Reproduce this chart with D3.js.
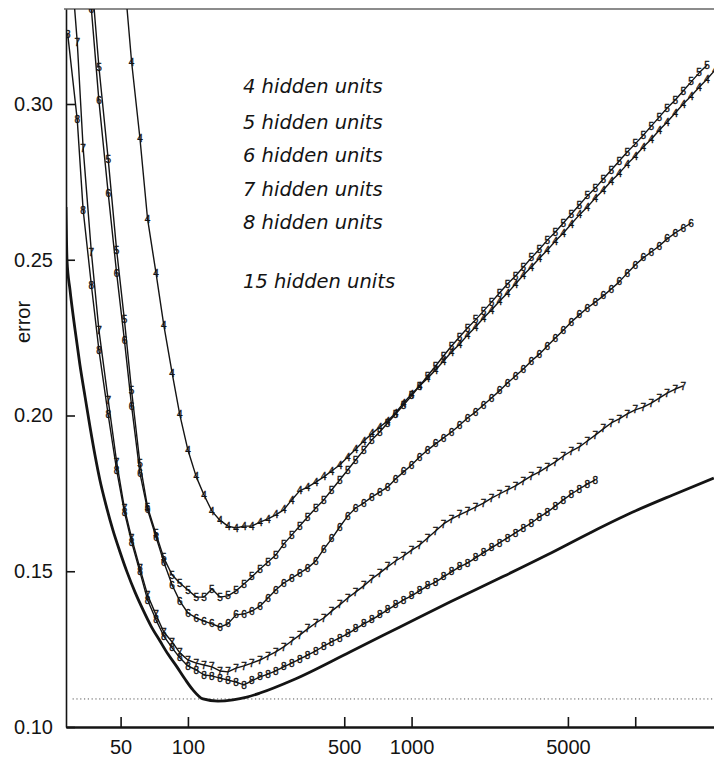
<!DOCTYPE html>
<html>
<head>
<meta charset="utf-8">
<script src="https://cdn.jsdelivr.net/npm/d3@7"></script>
<style>
  html, body { margin: 0; padding: 0; background: #fff; }
  svg { display: block; }
</style>
</head>
<body>
<svg id="chart" width="714" height="763"></svg>
<script>
// Training-set sizes at which the networks were evaluated (shared grid).
const sampleSizes = [29, 32, 34, 37, 40, 44, 48, 52, 56, 61, 66, 72, 78, 85, 92, 100,
  109, 118, 128, 139, 151, 164, 178, 193, 210, 228, 247, 268, 291, 316, 343, 373,
  405, 439, 477, 518, 562, 611, 663, 720, 781, 848, 921, 1000, 1086, 1179, 1280,
  1389, 1509, 1638, 1778, 1931, 2096, 2276, 2471, 2683, 2913, 3162, 3433, 3728,
  4047, 4394, 4771, 5179, 5623, 6105, 6628, 7197, 7813, 8483, 9210, 10000, 10860,
  11790, 12800, 13890, 15090, 16380, 17780, 19310, 20960, 22760];

const hiddenUnits = [4, 5, 6, 7, 8];
// Position in sampleSizes of each series' first value.
const firstIndex = [7, 3, 2, 0, 0];

const errors4 = [0.3404, 0.3135, 0.2891, 0.2631, 0.2457, 0.2290, 0.2136, 0.2002, 0.1889, 0.1803,
  0.1745, 0.1693, 0.1664, 0.1645, 0.1639, 0.1645, 0.1645, 0.1658, 0.1668, 0.1681,
  0.1697, 0.1729, 0.1758, 0.1770, 0.1786, 0.1803, 0.1822, 0.1841, 0.1867, 0.1892,
  0.1918, 0.1941, 0.1963, 0.1982, 0.2008, 0.2040, 0.2069, 0.2095, 0.2120, 0.2146,
  0.2175, 0.2204, 0.2229, 0.2258, 0.2284, 0.2313, 0.2339, 0.2367, 0.2393, 0.2422,
  0.2451, 0.2477, 0.2505, 0.2531, 0.2560, 0.2586, 0.2615, 0.2644, 0.2669, 0.2698,
  0.2724, 0.2753, 0.2778, 0.2807, 0.2833, 0.2862, 0.2887, 0.2916, 0.2942, 0.2971,
  0.3000, 0.3026, 0.3054, 0.3080, 0.3109];

const errors5 = [0.3414, 0.3119, 0.2823, 0.2531, 0.2307, 0.2079, 0.1847,
  0.1706, 0.1620, 0.1543, 0.1488, 0.1462, 0.1440, 0.1417, 0.1417, 0.1443, 0.1417,
  0.1421, 0.1437, 0.1459, 0.1482, 0.1507, 0.1530, 0.1552, 0.1587, 0.1616, 0.1645,
  0.1674, 0.1703, 0.1729, 0.1761, 0.1793, 0.1825, 0.1857, 0.1889, 0.1921, 0.1947,
  0.1976, 0.2005, 0.2034, 0.2063, 0.2095, 0.2127, 0.2159, 0.2191, 0.2223, 0.2252,
  0.2281, 0.2307, 0.2335, 0.2364, 0.2393, 0.2422, 0.2448, 0.2477, 0.2506, 0.2534,
  0.2563, 0.2589, 0.2618, 0.2647, 0.2676, 0.2705, 0.2730, 0.2759, 0.2788, 0.2817,
  0.2846, 0.2872, 0.2900, 0.2929, 0.2958, 0.2987, 0.3013, 0.3042, 0.3071, 0.3100,
  0.3125];

const errors6 = [0.3600, 0.3305, 0.3010, 0.2714, 0.2457, 0.2242, 0.2030, 0.1815,
  0.1697, 0.1610, 0.1530, 0.1456, 0.1404, 0.1366, 0.1350, 0.1340, 0.1331, 0.1321,
  0.1331, 0.1360, 0.1363, 0.1372, 0.1388, 0.1414, 0.1440, 0.1462, 0.1478, 0.1494,
  0.1510, 0.1533, 0.1571, 0.1604, 0.1642, 0.1677, 0.1703, 0.1719, 0.1738, 0.1754,
  0.1770, 0.1796, 0.1819, 0.1841, 0.1867, 0.1889, 0.1909, 0.1928, 0.1947, 0.1969,
  0.1992, 0.2011, 0.2034, 0.2056, 0.2079, 0.2104, 0.2127, 0.2149, 0.2175, 0.2197,
  0.2223, 0.2249, 0.2274, 0.2300, 0.2323, 0.2345, 0.2364, 0.2384, 0.2406, 0.2429,
  0.2457, 0.2483, 0.2506, 0.2525, 0.2544, 0.2567, 0.2586, 0.2602, 0.2618];

const errors7 = [0.3591, 0.3199, 0.2859, 0.2525, 0.2274, 0.2050, 0.1851, 0.1703, 0.1607, 0.1510,
  0.1424, 0.1360, 0.1305, 0.1273, 0.1238, 0.1215, 0.1205, 0.1199, 0.1193, 0.1180,
  0.1177, 0.1189, 0.1196, 0.1205, 0.1215, 0.1228, 0.1241, 0.1257, 0.1276, 0.1295,
  0.1315, 0.1334, 0.1350, 0.1372, 0.1392, 0.1414, 0.1433, 0.1453, 0.1475, 0.1494,
  0.1514, 0.1533, 0.1549, 0.1568, 0.1584, 0.1607, 0.1629, 0.1652, 0.1668, 0.1681,
  0.1693, 0.1706, 0.1719, 0.1735, 0.1748, 0.1761, 0.1774, 0.1790, 0.1806, 0.1819,
  0.1835, 0.1851, 0.1870, 0.1886, 0.1899, 0.1918, 0.1937, 0.1957, 0.1976, 0.1989,
  0.2005, 0.2018, 0.2027, 0.2040, 0.2056, 0.2072, 0.2085, 0.2095];

const errors8 = [0.3225, 0.2949, 0.2660, 0.2419, 0.2210, 0.2002, 0.1825, 0.1690, 0.1594, 0.1498,
  0.1408, 0.1344, 0.1292, 0.1254, 0.1222, 0.1196, 0.1183, 0.1167, 0.1164, 0.1157,
  0.1151, 0.1144, 0.1135, 0.1148, 0.1161, 0.1170, 0.1180, 0.1193, 0.1205, 0.1218,
  0.1231, 0.1244, 0.1260, 0.1273, 0.1286, 0.1299, 0.1315, 0.1331, 0.1344, 0.1360,
  0.1376, 0.1392, 0.1408, 0.1421, 0.1437, 0.1453, 0.1465, 0.1482, 0.1498, 0.1514,
  0.1526, 0.1543, 0.1559, 0.1575, 0.1591, 0.1607, 0.1623, 0.1639, 0.1655, 0.1674,
  0.1690, 0.1709, 0.1729, 0.1748, 0.1764, 0.1780, 0.1793];

// 15 hidden units: drawn as a heavy line without symbols.
const sizes15 = [28.5, 28.8, 29.7, 31.3, 32.9, 34.7, 36.5, 38.4, 40.4, 43.0, 46.2, 49.7,
  53.4, 58.0, 63.0, 68.4, 75.0, 81.4, 89.3, 97.0, 105.3, 116.8, 136.2, 159.0, 183.6,
  209.9, 294.8, 530.3, 887.0, 1484, 2483, 4027, 6269, 9759, 14730, 22460];
const errors15 = [0.2669, 0.2499, 0.2403, 0.2274, 0.2162, 0.2059, 0.1963, 0.1873, 0.1793,
  0.1713, 0.1632, 0.1562, 0.1498, 0.1433, 0.1376, 0.1324, 0.1276, 0.1234, 0.1193,
  0.1154, 0.1119, 0.1090, 0.1083, 0.1087, 0.1096, 0.1109, 0.1151, 0.1241, 0.1321,
  0.1401, 0.1478, 0.1552, 0.1623, 0.1690, 0.1745, 0.1799];

const referenceError = 0.109;

const yTicks = [0.10, 0.15, 0.20, 0.25, 0.30];
const xTicks = [50, 100, 500, 1000, 5000, 10000];
const xTickLabels = ["50", "100", "500", "1000", "5000", ""];
const legendLines = ["4 hidden units", "5 hidden units", "6 hidden units",
  "7 hidden units", "8 hidden units", "15 hidden units"];
const yLabel = "error";

// ---------------------------------------------------------------
const svg = d3.select("#chart");
const plot = { left: 66, right: 714, top: 9, bottom: 727 };

const x = d3.scaleLog().domain([28.5, 22500]).range([plot.left, plot.right]);
const y = d3.scaleLinear().domain([0.10, 0.3305]).range([plot.bottom, plot.top]);

svg.append("defs").append("clipPath").attr("id", "plot-clip")
  .append("rect")
  .attr("x", plot.left).attr("y", plot.top)
  .attr("width", plot.right - plot.left).attr("height", plot.bottom - plot.top);

const ink = "#141414";
const labelFont = "'Liberation Sans', Arial, Helvetica, sans-serif";

// Frame: grey top rule
svg.append("line")
  .attr("x1", plot.left - 2).attr("x2", plot.right)
  .attr("y1", plot.top).attr("y2", plot.top)
  .attr("stroke", "#8c8c8c").attr("stroke-width", 2);

// Dotted reference level
svg.append("line")
  .attr("x1", x(30.5)).attr("x2", plot.right)
  .attr("y1", y(referenceError)).attr("y2", y(referenceError))
  .attr("stroke", "#555").attr("stroke-width", 1)
  .attr("stroke-dasharray", "1.2,2.6");

// Axes
const yAxis = d3.axisLeft(y)
  .tickValues(yTicks)
  .tickSize(-9)
  .tickSizeOuter(0)
  .tickPadding(13)
  .tickFormat(d3.format(".2f"));

const yAxisG = svg.append("g")
  .attr("transform", `translate(${plot.left},0)`)
  .call(yAxis);
yAxisG.select(".domain").attr("stroke", ink).attr("stroke-width", 1.6);
yAxisG.selectAll(".tick line").attr("stroke", ink).attr("stroke-width", 1.6);
yAxisG.selectAll(".tick text")
  .attr("fill", ink)
  .style("font-family", labelFont)
  .style("font-size", "20px");

const xAxis = d3.axisBottom(x)
  .tickValues(xTicks)
  .tickSize(-10)
  .tickSizeOuter(0)
  .tickPadding(13)
  .tickFormat((d, i) => xTickLabels[i]);

const xAxisG = svg.append("g")
  .attr("transform", `translate(0,${plot.bottom})`)
  .call(xAxis);
xAxisG.select(".domain").attr("stroke", ink).attr("stroke-width", 2.4);
xAxisG.selectAll(".tick line").attr("stroke", ink).attr("stroke-width", 1.6);
xAxisG.selectAll(".tick text")
  .attr("fill", ink)
  .style("font-family", labelFont)
  .style("font-size", "20px");

// Y axis title
svg.append("text")
  .attr("transform", "translate(30,322) rotate(-90)")
  .attr("text-anchor", "middle")
  .attr("fill", ink)
  .style("font-family", labelFont)
  .style("font-size", "20px")
  .text(yLabel);

// Curves
const curvesG = svg.append("g").attr("clip-path", "url(#plot-clip)");

const line = d3.line()
  .x(d => x(d.n))
  .y(d => y(d.e));

const seriesErrors = [errors4, errors5, errors6, errors7, errors8];

seriesErrors.forEach((errs, s) => {
  const pts = errs.map((e, j) => ({ n: sampleSizes[firstIndex[s] + j], e }));
  curvesG.append("path")
    .datum(pts)
    .attr("fill", "none")
    .attr("stroke", ink)
    .attr("stroke-width", 1.4)
    .attr("stroke-linejoin", "round")
    .attr("d", line);
  curvesG.selectAll(null)
    .data(pts)
    .join("text")
    .attr("x", d => x(d.n))
    .attr("y", d => y(d.e))
    .attr("dy", "0.36em")
    .attr("text-anchor", "middle")
    .attr("fill", ink)
    .attr("stroke", ink)
    .attr("stroke-width", 0.35)
    .style("font-family", labelFont)
    .style("font-size", "10px")
    .text(hiddenUnits[s]);
});

const pts15 = errors15.map((e, j) => ({ n: sizes15[j], e }));
curvesG.append("path")
  .datum(pts15)
  .attr("fill", "none")
  .attr("stroke", ink)
  .attr("stroke-width", 2.8)
  .attr("stroke-linejoin", "round")
  .attr("d", line.curve(d3.curveMonotoneX));

// Series captions
const captionY = [93, 129, 162, 196, 229, 288];
svg.append("g").selectAll("text")
  .data(legendLines)
  .join("text")
  .attr("x", 243)
  .attr("y", (d, i) => captionY[i])
  .attr("fill", ink)
  .style("font-family", "'DejaVu Sans', sans-serif")
  .style("font-style", "italic")
  .style("font-size", "19.5px")
  .text(d => d);
</script>
</body>
</html>
